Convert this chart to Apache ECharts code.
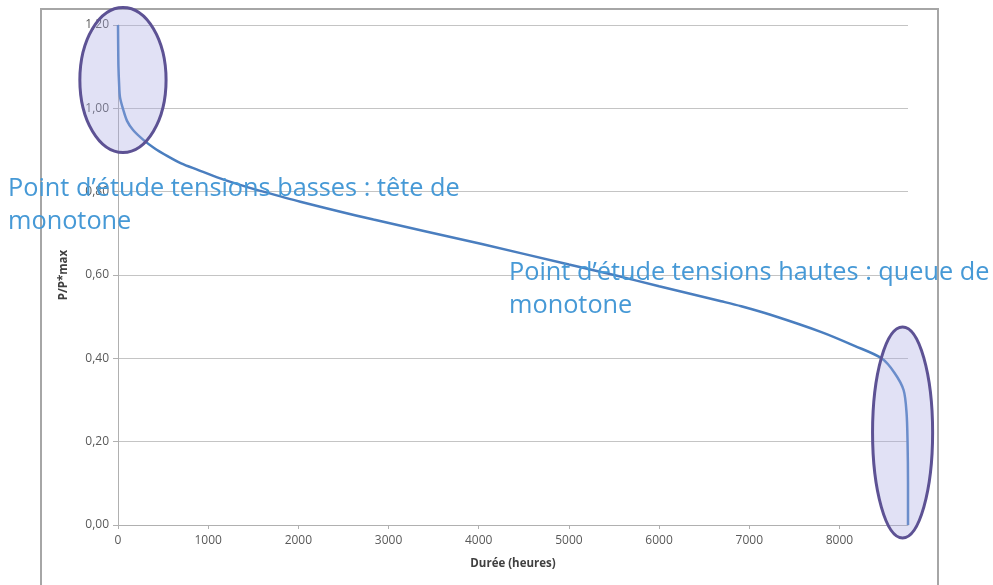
<!DOCTYPE html>
<html>
<head>
<meta charset="utf-8">
<script src="https://cdn.jsdelivr.net/npm/echarts@6/dist/echarts.min.js"></script>
<style>
  html, body { margin: 0; padding: 0; background: #fff; }
  #chart { width: 993px; height: 585px; }
</style>
</head>
<body>
<div id="chart"></div>
<script>
// Monotone de charge : durée cumulée (heures) et puissance normalisée P/P*max
const hours = [0, 2, 5, 12, 22, 59, 100, 167, 278, 400, 544, 700, 878, 1133, 1389, 1578, 2022, 2833, 4022, 5000, 5500, 6000, 6689, 6911, 7244, 7800, 8167, 8467, 8611, 8711, 8744, 8755, 8760, 8760];
const ratio = [1.20, 1.15, 1.10, 1.06, 1.027, 0.996, 0.97, 0.948, 0.925, 0.905, 0.886, 0.868, 0.853, 0.832, 0.814, 0.802, 0.776, 0.733, 0.675, 0.625, 0.600, 0.573, 0.537, 0.525, 0.504, 0.463, 0.430, 0.40, 0.365, 0.324, 0.269, 0.20, 0.10, 0.00];

const xTicks = [0, 1000, 2000, 3000, 4000, 5000, 6000, 7000, 8000];
const xMax = 8760;

// Zones d'étude entourées : centre et demi-axes en unités du graphique
const zoneCenterH = [55, 8700];
const zoneCenterP = [1.068, 0.222];
const zoneRadiusH = [478, 333];
const zoneRadiusP = [0.174, 0.253];

const noteTexts = [
  "Point d\u2019étude tensions basses : tête de\nmonotone",
  "Point d\u2019étude tensions hautes : queue de\nmonotone"
];

const chart = echarts.init(document.getElementById('chart'));
const grey = '#595959';

chart.setOption({
  animation: false,
  backgroundColor: '#ffffff',
  grid: { left: 118, top: 25, right: 85, bottom: 60, containLabel: false },
  xAxis: {
    type: 'value',
    min: 0,
    max: xMax,
    name: 'Durée (heures)',
    nameLocation: 'middle',
    nameGap: 33,
    nameTextStyle: { fontFamily: 'Open Sans', fontSize: 11.5, fontWeight: 'bold', color: '#404040' },
    axisLine: { show: true, lineStyle: { color: '#b0b0b0', width: 1 } },
    axisTick: { show: true, length: 4, lineStyle: { color: '#b0b0b0' }, customValues: xTicks },
    axisLabel: {
      customValues: xTicks, fontFamily: 'Open Sans', fontSize: 12, color: grey, margin: 10,
      formatter: v => String(v)
    },
    splitLine: { show: false }
  },
  yAxis: {
    type: 'value',
    min: 0,
    max: 1.2,
    interval: 0.2,
    name: 'P/P*max',
    nameLocation: 'middle',
    nameRotate: 90,
    nameGap: 48,
    nameTextStyle: { fontFamily: 'Open Sans', fontSize: 11.5, fontWeight: 'bold', color: '#404040' },
    axisLine: { show: true, lineStyle: { color: '#b0b0b0', width: 1 } },
    axisTick: { show: true, inside: false, length: 5, lineStyle: { color: '#b0b0b0' } },
    axisLabel: {
      fontFamily: 'Open Sans', fontSize: 12, color: grey, margin: 9,
      formatter: v => v.toFixed(2).replace('.', ',')
    },
    splitLine: { show: true, lineStyle: { color: '#c4c4c4', width: 1 } }
  },
  series: [{
    type: 'line',
    data: hours.map((h, i) => [h, ratio[i]]),
    showSymbol: false,
    smooth: 0.3,
    lineStyle: { color: '#4a7ebf', width: 2.5 },
    z: 3
  }]
});

// Ellipses et textes d'annotation, placés à partir des coordonnées du graphique
function toPx(h, p) { return chart.convertToPixel({ gridIndex: 0 }, [h, p]); }
const graphics = [];
graphics.push({
  type: 'rect', silent: true, z: 0,
  shape: { x: 41, y: 9, width: 897, height: 600 },
  style: { fill: 'none', stroke: '#a6a6a6', lineWidth: 2 }
});
for (let i = 0; i < zoneCenterH.length; i++) {
  const c = toPx(zoneCenterH[i], zoneCenterP[i]);
  const e = toPx(zoneCenterH[i] + zoneRadiusH[i], zoneCenterP[i] + zoneRadiusP[i]);
  graphics.push({
    type: 'ellipse', silent: true, z: 10,
    shape: { cx: c[0], cy: c[1], rx: Math.abs(e[0] - c[0]), ry: Math.abs(c[1] - e[1]) },
    style: { fill: 'rgba(170,170,225,0.35)', stroke: '#5d5294', lineWidth: 3 }
  });
}
const notePos = [[8, 172], [509, 256]];
noteTexts.forEach((t, i) => {
  graphics.push({
    type: 'text', silent: true, z: 20,
    x: notePos[i][0], y: notePos[i][1],
    style: {
      text: t, fill: '#4699d6', fontFamily: 'Open Sans', fontSize: 25.3,
      lineHeight: 33, align: 'left', verticalAlign: 'top'
    }
  });
});
chart.setOption({ graphic: graphics });
</script>
</body>
</html>
